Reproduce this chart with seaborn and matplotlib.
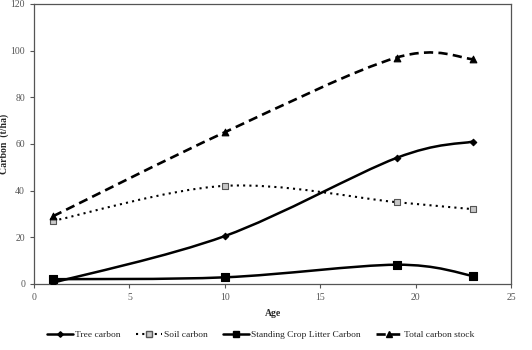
import numpy as np
import seaborn as sns
import matplotlib.pyplot as plt
from matplotlib.path import Path
from matplotlib.patches import PathPatch
from matplotlib.lines import Line2D

# Data
age = [1, 10, 19, 23]
tree_carbon = [0.5, 20.5, 54.0, 61.0]
soil_carbon = [27.0, 42.0, 35.0, 32.0]
litter_carbon = [2.0, 2.8, 8.2, 3.4]
total_carbon = [29.0, 65.0, 97.0, 96.3]

labels = ['Tree carbon', 'Soil carbon', 'Standing Crop Litter Carbon', 'Total carbon stock']

sns.set_style('white')
plt.rcParams['font.family'] = ['Liberation Serif', 'DejaVu Serif']


def smooth_path(x, y):
    """Excel-like smoothed line: Catmull-Rom segments as cubic Bezier curves."""
    pts = np.column_stack([x, y]).astype(float)
    ext = np.vstack([pts[0], pts, pts[-1]])
    verts = [pts[0]]
    codes = [Path.MOVETO]
    for i in range(1, len(ext) - 2):
        p0, p1, p2, p3 = ext[i - 1], ext[i], ext[i + 1], ext[i + 2]
        c1 = p1 + (p2 - p0) / 6.0
        c2 = p2 - (p3 - p1) / 6.0
        verts += [c1, c2, p2]
        codes += [Path.CURVE4] * 3
    return Path(verts, codes)


fig = plt.figure(figsize=(5.32, 3.5), dpi=100)
ax = fig.add_axes([0.064, 0.189, 0.897, 0.800])

series = [
    (tree_carbon, dict(ls='-', lw=1.8, marker='D', ms=3.3, mfc='black', mec='black')),
    (soil_carbon, dict(ls=(0, (1, 2)), lw=1.5, marker='s', ms=4.8, mfc='#c8c8c8', mec='#555555')),
    (litter_carbon, dict(ls='-', lw=1.8, marker='s', ms=5.2, mfc='black', mec='black')),
    (total_carbon, dict(ls=(0, (3.5, 2)), lw=1.9, marker='^', ms=4.8, mfc='black', mec='black')),
]

handles = []
for (vals, st), lab in zip(series, labels):
    patch = PathPatch(smooth_path(age, vals), fill=False, edgecolor='black',
                      lw=st['lw'], linestyle=st['ls'], zorder=2)
    ax.add_patch(patch)
    sns.scatterplot(x=age, y=vals, ax=ax, marker=st['marker'], s=st['ms'] ** 2,
                    color=st['mfc'], edgecolor=st['mec'], linewidth=0.8, zorder=3)
    handles.append(Line2D([], [], color='black', lw=st['lw'], linestyle=st['ls'],
                          marker=st['marker'], ms=st['ms'] * 0.85, mfc=st['mfc'], mec=st['mec']))

ax.set_xlim(0, 25)
ax.set_ylim(0, 120)
ax.set_xticks(range(0, 26, 5))
ax.set_yticks(range(0, 121, 20))
ax.tick_params(axis='both', labelsize=7, labelcolor='#555555', colors='#555555',
               direction='out', length=3, width=0.8, bottom=True, left=True)
for sp in ax.spines.values():
    sp.set_color('#555555')
    sp.set_linewidth(0.9)

ax.set_xlabel('Age', fontsize=7, fontweight='bold', labelpad=5)
ax.set_ylabel('Carbon  (t/ha)', fontsize=7, fontweight='bold')
ax.yaxis.set_label_coords(-0.052, 0.5)

fig.legend(handles, labels, loc='center', bbox_to_anchor=(0.49, 0.043), ncol=4,
           frameon=False, fontsize=6.8, handlelength=2.7, columnspacing=1.7,
           handletextpad=0.2)

fig.savefig('out.png', dpi=100)
